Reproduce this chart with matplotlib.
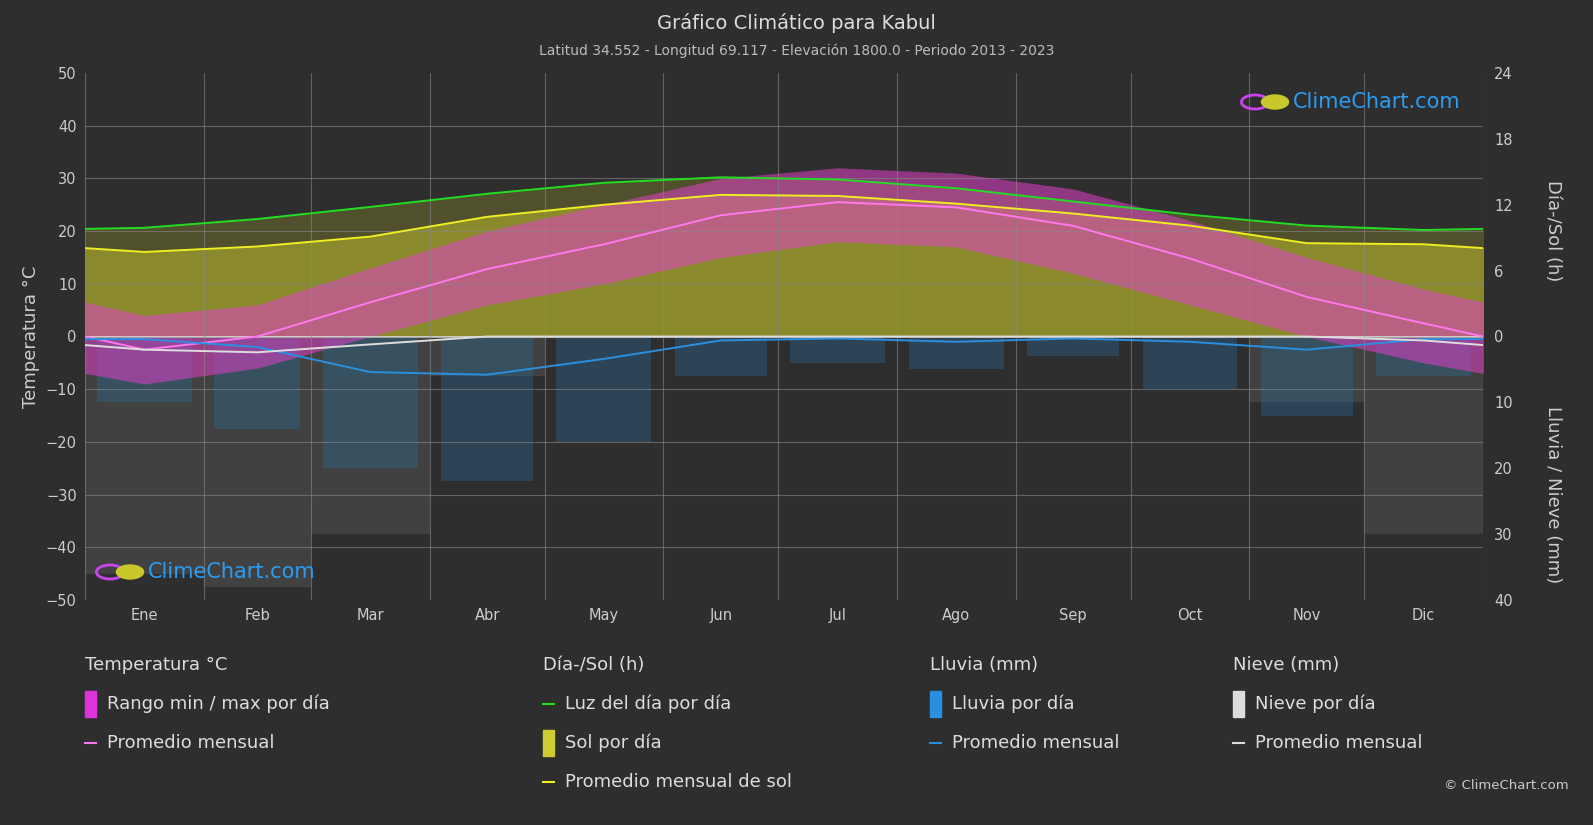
import numpy as np
import matplotlib.pyplot as plt
from matplotlib.patches import Rectangle, Circle
from matplotlib.lines import Line2D

meses = ['Ene', 'Feb', 'Mar', 'Abr', 'May', 'Jun', 'Jul', 'Ago', 'Sep', 'Oct', 'Nov', 'Dic']
temp_media = [-2.5, 0.0, 6.5, 12.8, 17.5, 23.0, 25.5, 24.5, 21.0, 14.8, 7.5, 2.5]
temp_min = [-9, -6, 0, 6, 10, 15, 18, 17, 12, 6, 0, -5]
temp_max = [4, 6, 13, 20, 25, 30, 32, 31, 28, 22, 15, 9]
luz_dia = [9.9, 10.7, 11.8, 13.0, 14.0, 14.5, 14.3, 13.5, 12.3, 11.1, 10.1, 9.7]
sol_medio = [7.7, 8.2, 9.1, 10.9, 12.0, 12.9, 12.8, 12.1, 11.2, 10.1, 8.5, 8.4]
lluvia_media = [0.4, 1.6, 5.4, 5.8, 3.4, 0.6, 0.3, 0.8, 0.3, 0.8, 2.0, 0.4]
nieve_media = [2.0, 2.4, 1.2, 0.0, 0.0, 0.0, 0.0, 0.0, 0.0, 0.0, 0.0, 0.6]
lluvia_max = [10, 14, 20, 22, 16, 6, 4, 5, 3, 8, 12, 6]
nieve_max = [36, 38, 30, 6, 0, 0, 0, 0, 0, 0, 10, 30]

bg = '#2e2e2e'
dias_mes = np.array([31, 28, 31, 30, 31, 30, 31, 31, 30, 31, 30, 31])
limites = np.concatenate([[0], np.cumsum(dias_mes)])
centros = (limites[:-1] + limites[1:]) / 2

H = 50 / 24   # horas -> °C
MM = 1.25     # mm -> °C


def ciclo(v):
    # envuelve el año (dic antes de ene, ene despues de dic) para llegar a los bordes
    x = np.concatenate([[centros[-1] - 365], centros, [centros[0] + 365]])
    y = np.concatenate([[v[-1]], v, [v[0]]])
    return x, y


fig = plt.figure(figsize=(15.93, 8.25), dpi=100, facecolor=bg)
ax = fig.add_axes([85 / 1593, 1 - 600 / 825, 1398 / 1593, 527 / 825])
ax.set_facecolor(bg)
ax.set_xlim(0, 365)
ax.set_ylim(-50, 50)

# nieve y lluvia (barras hacia abajo)
ax.bar(centros, [-v * MM for v in nieve_max], width=dias_mes, color='#666666', alpha=0.35, zorder=1)
ax.bar(centros, [-v * MM for v in lluvia_max], width=dias_mes * 0.8, color='#2a6f9e', alpha=0.35, zorder=1)

# sol y luz del dia
x, y = ciclo(np.array(luz_dia) * H)
ax.fill_between(x, 0, y, color='#50502c', zorder=1)
x, y = ciclo(np.array(sol_medio) * H)
ax.fill_between(x, 0, y, color='#8a8a2c', zorder=2)

# rango de temperatura
x, ymin = ciclo(np.array(temp_min, float))
x, ymax = ciclo(np.array(temp_max, float))
ax.fill_between(x, ymin, ymax, color='#e040c8', alpha=0.55, zorder=3, lw=0)

for v, c, f in [(np.array(luz_dia) * H, '#22dd22', 1), (np.array(sol_medio) * H, '#eeee22', 1),
                (np.array(temp_media), '#ff77ee', 1), (np.array(lluvia_media) * -MM, '#2a8fe0', 1),
                (np.array(nieve_media) * -MM, '#dddddd', 1)]:
    x, y = ciclo(v)
    ax.plot(x, y, color=c, lw=1.4, zorder=5)
ax.axhline(0, color='#dddddd', lw=1.2, zorder=4)

for xl in limites:
    ax.axvline(xl, color='#888888', lw=0.8, alpha=0.6, zorder=4)
for yl in range(-40, 50, 10):
    ax.axhline(yl, color='#888888', lw=0.8, alpha=0.6, zorder=4)

ax.set_xticks(centros)
ax.set_xticklabels(meses)
ax.set_yticks(range(-50, 51, 10))
ax.tick_params(colors='#cccccc', labelsize=10.5, length=0, pad=6)
for s in ax.spines.values():
    s.set_visible(False)
ax.set_ylabel('Temperatura °C', color='#cccccc', fontsize=13)

ax2 = ax.twinx()
ax2.set_ylim(-50, 50)
ticks = [24 * H, 18 * H, 12 * H, 6 * H, 0, -10 * MM, -20 * MM, -30 * MM, -40 * MM]
ax2.set_yticks(ticks)
ax2.set_yticklabels(['24', '18', '12', '6', '0', '10', '20', '30', '40'])
ax2.tick_params(colors='#cccccc', labelsize=10.5, length=0, pad=8)
for s in ax2.spines.values():
    s.set_visible(False)
fig.text(0.975, 0.72, 'Día-/Sol (h)', rotation=270, color='#cccccc', fontsize=13, ha='center', va='center')
fig.text(0.975, 0.40, 'Lluvia / Nieve (mm)', rotation=270, color='#cccccc', fontsize=13, ha='center', va='center')

fig.text(0.5, 0.972, 'Gráfico Climático para Kabul', color='#dddddd', fontsize=14, ha='center', va='center')
fig.text(0.5, 0.938, 'Latitud 34.552 - Longitud 69.117 - Elevación 1800.0 - Periodo 2013 - 2023',
         color='#bbbbbb', fontsize=10, ha='center', va='center')
for lx, ly in [(1255, 102), (110, 572)]:
    fig.patches.append(Circle((lx / 1593, 1 - ly / 825), 0.0085, transform=fig.transFigure,
                              fill=False, ec='#cc44ee', lw=2))
    fig.patches.append(Circle(((lx + 20) / 1593, 1 - ly / 825), 0.0085, transform=fig.transFigure,
                              color='#c8c82a'))
    fig.text((lx + 38) / 1593, 1 - ly / 825, 'ClimeChart.com', color='#2a9df4', fontsize=15,
             ha='left', va='center')
fig.text(0.985, 0.048, '© ClimeChart.com', color='#cccccc', fontsize=9.5, ha='right', va='center')

# leyenda
col_x = [85, 543, 930, 1233]
titulos = ['Temperatura °C', 'Día-/Sol (h)', 'Lluvia (mm)', 'Nieve (mm)']
items = [
    [('rect', '#dd33dd', 'Rango min / max por día'), ('line', '#ff77ee', 'Promedio mensual')],
    [('line', '#22dd22', 'Luz del día por día'), ('rect', '#cccc33', 'Sol por día'),
     ('line', '#eeee22', 'Promedio mensual de sol')],
    [('rect', '#2a8fe0', 'Lluvia por día'), ('line', '#2a8fe0', 'Promedio mensual')],
    [('rect', '#dddddd', 'Nieve por día'), ('line', '#dddddd', 'Promedio mensual')],
]
for cx, t, its in zip(col_x, titulos, items):
    fig.text(cx / 1593, 1 - 665 / 825, t, color='#dddddd', fontsize=13, va='center')
    for i, (k, c, lab) in enumerate(its):
        yy = 1 - (704 + 39 * i) / 825
        if k == 'rect':
            fig.patches.append(Rectangle((cx / 1593, yy - 0.016), 11 / 1593, 0.032,
                                         transform=fig.transFigure, color=c))
        else:
            fig.lines.append(Line2D([cx / 1593, (cx + 11) / 1593], [yy, yy],
                                    transform=fig.transFigure, color=c, lw=1.5))
        fig.text((cx + 22) / 1593, yy, lab, color='#dddddd', fontsize=13, va='center')

fig.savefig('out.png', dpi=100, facecolor=bg)
